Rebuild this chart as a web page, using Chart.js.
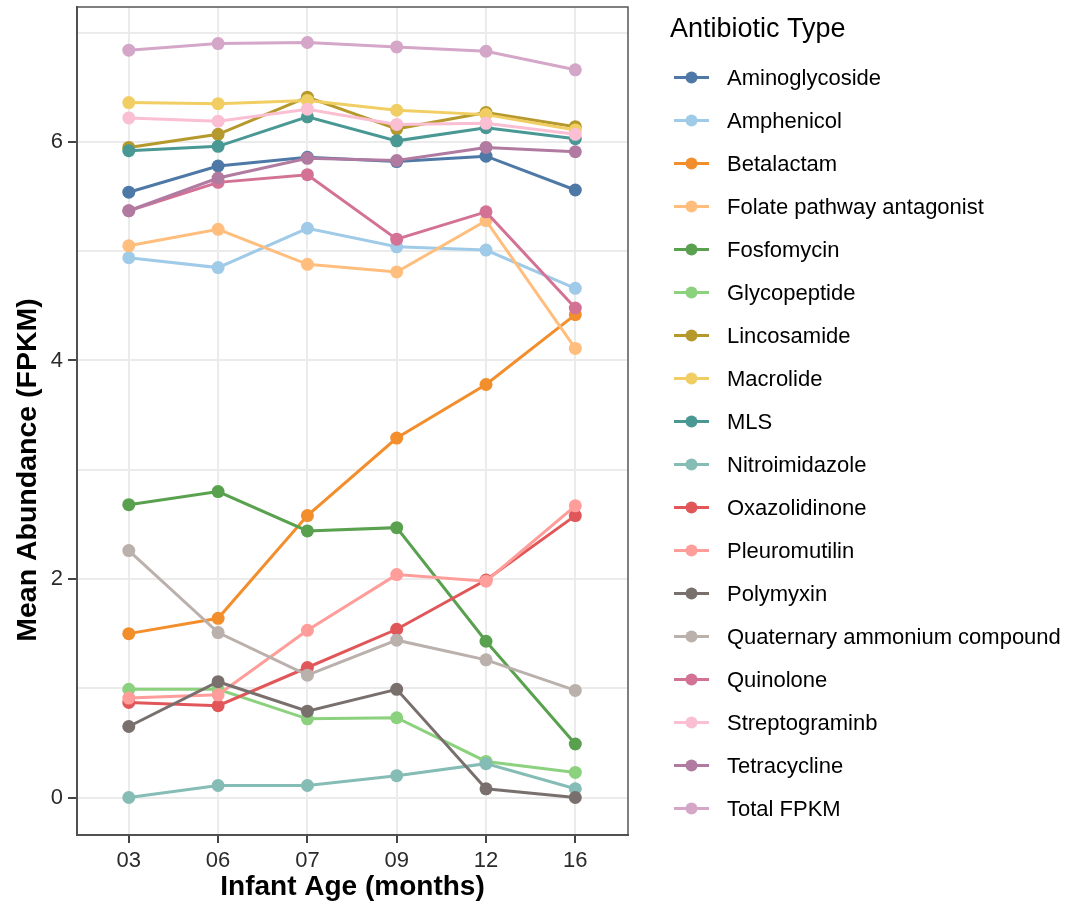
<!DOCTYPE html>
<html lang="en">
<head>
<meta charset="utf-8">
<title>Mean Abundance by Antibiotic Type</title>
<script src="https://cdn.jsdelivr.net/npm/chart.js@4.4.1/dist/chart.umd.min.js"></script>
<style>
    html, body { margin: 0; padding: 0; background: #fff; }
    #wrap { width: 1065px; height: 909px; }
</style>
</head>
<body>
<div id="wrap"><canvas id="abundanceChart" width="1065" height="909"></canvas></div>
<script>
// 月齢（x軸カテゴリ）
const ageLabels = ['03', '06', '07', '09', '12', '16'];
// y軸の目盛り（偶数のみラベル表示）
const yTickValues = [0, 1, 2, 3, 4, 5, 6, 7];

// 系列名と色
const seriesNames = [
    'Aminoglycoside', 'Amphenicol', 'Betalactam', 'Folate pathway antagonist',
    'Fosfomycin', 'Glycopeptide', 'Lincosamide', 'Macrolide', 'MLS',
    'Nitroimidazole', 'Oxazolidinone', 'Pleuromutilin', 'Polymyxin',
    'Quaternary ammonium compound', 'Quinolone', 'Streptograminb',
    'Tetracycline', 'Total FPKM'
];
const seriesColors = [
    '#4E79A7', '#A0CBE8', '#F28E2B', '#FFBE7D', '#59A14F', '#8CD17D',
    '#B6992D', '#F1CE63', '#499894', '#86BCB6', '#E15759', '#FF9D9A',
    '#79706E', '#BAB0AC', '#D37295', '#FABFD2', '#B07AA1', '#D4A6C8'
];

// 各系列の平均存在量 (FPKM)
const aminoglycoside = [5.54, 5.78, 5.86, 5.82, 5.87, 5.56];
const amphenicol = [4.94, 4.85, 5.21, 5.04, 5.01, 4.66];
const betalactam = [1.50, 1.64, 2.58, 3.29, 3.78, 4.42];
const folatePathway = [5.05, 5.20, 4.88, 4.81, 5.28, 4.11];
const fosfomycin = [2.68, 2.80, 2.44, 2.47, 1.43, 0.49];
const glycopeptide = [0.99, 0.99, 0.72, 0.73, 0.33, 0.23];
const lincosamide = [5.95, 6.07, 6.41, 6.12, 6.27, 6.14];
const macrolide = [6.36, 6.35, 6.38, 6.29, 6.25, 6.11];
const mls = [5.92, 5.96, 6.23, 6.01, 6.13, 6.03];
const nitroimidazole = [0.00, 0.11, 0.11, 0.20, 0.31, 0.08];
const oxazolidinone = [0.87, 0.84, 1.19, 1.54, 1.99, 2.58];
const pleuromutilin = [0.91, 0.94, 1.53, 2.04, 1.98, 2.67];
const polymyxin = [0.65, 1.06, 0.79, 0.99, 0.08, 0.00];
const quaternaryAmmonium = [2.26, 1.51, 1.12, 1.44, 1.26, 0.98];
const quinolone = [5.37, 5.63, 5.70, 5.11, 5.36, 4.48];
const streptograminb = [6.22, 6.19, 6.30, 6.16, 6.17, 6.07];
const tetracycline = [5.37, 5.67, 5.85, 5.83, 5.95, 5.91];
const totalFpkm = [6.84, 6.90, 6.91, 6.87, 6.83, 6.66];

const seriesValues = [
    aminoglycoside, amphenicol, betalactam, folatePathway, fosfomycin,
    glycopeptide, lincosamide, macrolide, mls, nitroimidazole, oxazolidinone,
    pleuromutilin, polymyxin, quaternaryAmmonium, quinolone, streptograminb,
    tetracycline, totalFpkm
];

const FONT = '"Liberation Sans", Arial, sans-serif';

// ページ読み込み時の初期化
document.addEventListener('DOMContentLoaded', () => {
    createChart();
});

// パネルの枠線
const panelBorder = {
    id: 'panelBorder',
    afterDatasetsDraw(chart) {
        const { ctx, chartArea } = chart;
        ctx.save();
        ctx.strokeStyle = '#555';
        ctx.lineWidth = 1.5;
        ctx.strokeRect(chartArea.left, chartArea.top, chartArea.right - chartArea.left, chartArea.bottom - chartArea.top);
        ctx.restore();
    }
};

// y軸タイトル（元図ではパネル中央より少し下にある）
const yAxisTitle = {
    id: 'yAxisTitle',
    afterDraw(chart) {
        const ctx = chart.ctx;
        ctx.save();
        ctx.translate(28.5, 470);
        ctx.rotate(-Math.PI / 2);
        ctx.textAlign = 'center';
        ctx.textBaseline = 'middle';
        ctx.fillStyle = '#000';
        ctx.font = `bold 28.5px ${FONT}`;
        ctx.fillText('Mean Abundance (FPKM)', 0, 0);
        ctx.restore();
    }
};

// 右側の凡例（線＋点）
const sideLegend = {
    id: 'sideLegend',
    afterDraw(chart) {
        const ctx = chart.ctx;
        ctx.save();
        ctx.textBaseline = 'middle';
        ctx.fillStyle = '#000';
        ctx.font = `27px ${FONT}`;
        ctx.fillText('Antibiotic Type', 670, 30);

        ctx.font = `22px ${FONT}`;
        seriesNames.forEach((name, i) => {
            const y = 77.5 + i * 43;
            ctx.strokeStyle = seriesColors[i];
            ctx.fillStyle = seriesColors[i];
            ctx.lineWidth = 3;
            ctx.beginPath();
            ctx.moveTo(674, y);
            ctx.lineTo(709, y);
            ctx.stroke();
            ctx.beginPath();
            ctx.arc(691.5, y, 6, 0, Math.PI * 2);
            ctx.fill();
            ctx.fillStyle = '#000';
            ctx.fillText(name, 727, y + 1);
        });
        ctx.restore();
    }
};

// グラフ作成
function createChart() {
    const ctx = document.getElementById('abundanceChart').getContext('2d');
    const n = seriesNames.length;

    const datasets = seriesNames.map((name, i) => ({
        label: name,
        data: seriesValues[i].map((v, j) => ({ x: j, y: v })),
        borderColor: seriesColors[i],
        backgroundColor: seriesColors[i],
        borderWidth: 3,
        pointRadius: 6.5,
        pointHoverRadius: 6.5,
        pointBorderWidth: 0,
        tension: 0,
        fill: false,
        order: n - 1 - i // 後の系列を上に描く
    }));

    new Chart(ctx, {
        type: 'line',
        data: { datasets: datasets },
        plugins: [panelBorder, yAxisTitle, sideLegend],
        options: {
            responsive: false,
            animation: false,
            events: [],
            layout: {
                padding: { top: 7, right: 437, bottom: 0, left: 0 }
            },
            scales: {
                x: {
                    type: 'linear',
                    min: -0.58,
                    max: 5.59,
                    afterBuildTicks: scale => {
                        scale.ticks = ageLabels.map((_, i) => ({ value: i }));
                    },
                    afterFit: scale => {
                        scale.height = 74;
                        scale.paddingLeft = 0;
                        scale.paddingRight = 0;
                    },
                    ticks: {
                        autoSkip: false,
                        maxRotation: 0,
                        padding: 5,
                        color: '#2b2b2b',
                        font: { family: FONT, size: 22 },
                        callback: value => ageLabels[value]
                    },
                    grid: {
                        color: '#EBEBEB',
                        lineWidth: 2,
                        tickColor: '#444',
                        tickLength: 8
                    },
                    border: { color: '#444', width: 2 },
                    title: {
                        display: true,
                        text: 'Infant Age (months)',
                        color: '#000',
                        font: { family: FONT, size: 28, weight: 'bold' },
                        padding: { top: 0, bottom: 5 }
                    }
                },
                y: {
                    min: -0.343,
                    max: 7.235,
                    afterBuildTicks: scale => {
                        scale.ticks = yTickValues.map(v => ({ value: v }));
                    },
                    afterFit: scale => {
                        scale.width = 77;
                        scale.paddingTop = 0;
                        scale.paddingBottom = 0;
                    },
                    ticks: {
                        autoSkip: false,
                        padding: 5,
                        color: '#2b2b2b',
                        font: { family: FONT, size: 22 },
                        callback: value => (value % 2 === 0 ? String(value) : '')
                    },
                    grid: {
                        color: '#EBEBEB',
                        lineWidth: 2,
                        tickColor: c => (c.tick && c.tick.value % 2 === 0 ? '#444' : 'rgba(0,0,0,0)'),
                        tickLength: 9
                    },
                    border: { color: '#444', width: 2 },
                    title: { display: false }
                }
            },
            plugins: {
                legend: { display: false },
                tooltip: { enabled: false }
            }
        }
    });
}
</script>
</body>
</html>
